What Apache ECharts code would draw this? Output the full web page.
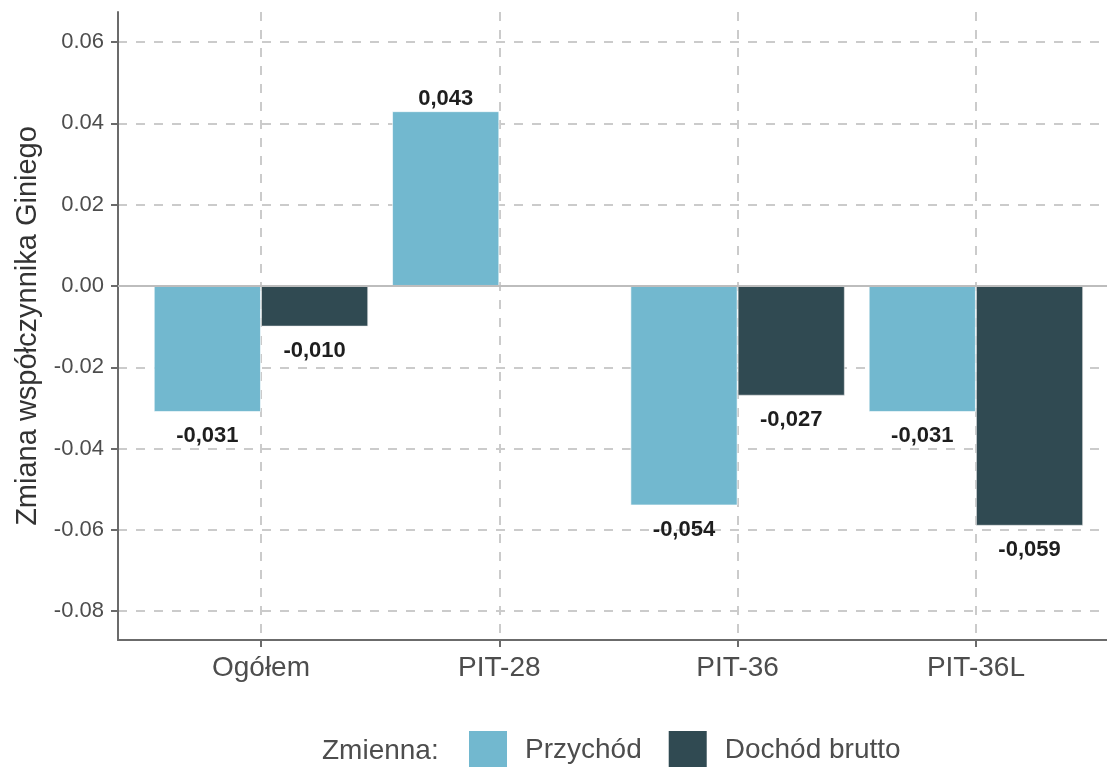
<!DOCTYPE html>
<html>
<head>
<meta charset="utf-8">
<script src="https://cdn.jsdelivr.net/npm/echarts@6/dist/echarts.min.js"></script>
<style>
  html, body { margin: 0; padding: 0; background: #ffffff; }
  #chart { width: 1107px; height: 767px; }
</style>
</head>
<body>
<div id="chart"></div>
<script>
// Change of the Gini coefficient by tax form and income variable
const categories = ['Ogółem', 'PIT-28', 'PIT-36', 'PIT-36L'];
const przychod = [-0.031, 0.043, -0.054, -0.031];
const dochodBrutto = [-0.010, null, -0.027, -0.059];
const yTicks = [-0.08, -0.06, -0.04, -0.02, 0.00, 0.02, 0.04, 0.06];
const seriesNames = ['Przychód', 'Dochód brutto'];
const legendTitle = 'Zmienna:';
const yTitle = 'Zmiana współczynnika Giniego';

const FONT = '"Liberation Sans", Arial, sans-serif';
const COLORS = ['#72b8cf', '#304a52'];
const catPositions = categories.map((c, i) => i + 1);

function fmtComma(v) {
  return v.toFixed(3).replace('.', ',');
}

function toPoints(values) {
  const out = [];
  values.forEach((v, i) => {
    if (v === null) return;
    out.push({
      value: [catPositions[i], v],
      label: { position: v >= 0 ? 'top' : 'bottom', distance: v >= 0 ? 1 : 13 }
    });
  });
  return out;
}

const gridDash = { color: '#cbcbcb', width: 2, type: [9, 9] };

const barLabel = {
  show: true,
  fontFamily: FONT,
  fontSize: 22,
  fontWeight: 'bold',
  color: '#1e1e1e',
  formatter: p => fmtComma(p.value[1])
};

const chart = echarts.init(document.getElementById('chart'), null, { renderer: 'canvas' });

chart.setOption({
  animation: false,
  backgroundColor: '#ffffff',
  grid: { left: 118, top: 12, right: 0, bottom: 127, containLabel: false },
  xAxis: {
    type: 'value',
    min: 0.4,
    max: 4.55,
    axisLine: { show: true, onZero: false, lineStyle: { color: '#6b6b6b', width: 2 } },
    axisTick: { show: true, length: 7, customValues: catPositions, lineStyle: { color: '#6b6b6b', width: 2 } },
    axisLabel: {
      customValues: catPositions,
      margin: 14,
      fontFamily: FONT,
      fontSize: 28,
      color: '#4d4d4d',
      formatter: v => categories[Math.round(v) - 1] || ''
    },
    splitLine: { show: true, lineStyle: gridDash }
  },
  yAxis: {
    type: 'value',
    min: -0.0871,
    max: 0.0674,
    name: yTitle,
    nameLocation: 'middle',
    nameGap: 76,
    nameTextStyle: { fontFamily: FONT, fontSize: 29, color: '#333333' },
    axisLine: { show: true, onZero: false, lineStyle: { color: '#6b6b6b', width: 2 } },
    axisTick: { show: true, length: 7, customValues: yTicks, lineStyle: { color: '#6b6b6b', width: 2 } },
    axisLabel: {
      customValues: yTicks,
      margin: 14,
      fontFamily: FONT,
      fontSize: 22,
      color: '#4d4d4d',
      formatter: v => v.toFixed(2)
    },
    splitLine: { show: true, lineStyle: gridDash }
  },
  legend: {
    data: seriesNames,
    left: 469,
    top: 731,
    padding: 0,
    orient: 'horizontal',
    icon: 'rect',
    itemWidth: 38,
    itemHeight: 38,
    itemGap: 27,
    itemStyle: { borderWidth: 0 },
    textStyle: { fontFamily: FONT, fontSize: 28, color: '#4d4d4d', padding: [0, 0, 0, 13] },
    selectedMode: false
  },
  graphic: [{
    type: 'text',
    left: 322,
    top: 737,
    style: { text: legendTitle, fontFamily: FONT, fontSize: 28, fill: '#4d4d4d' }
  }],
  series: [
    {
      name: seriesNames[0],
      type: 'bar',
      barWidth: '45%',
      barGap: '0%',
      itemStyle: { color: COLORS[0], borderColor: 'rgba(255,255,255,0.6)', borderWidth: 1 },
      label: barLabel,
      data: toPoints(przychod),
      markLine: {
        silent: true,
        symbol: 'none',
        label: { show: false },
        lineStyle: { type: 'solid', color: '#bdbdbd', width: 2 },
        data: [{ yAxis: 0 }]
      }
    },
    {
      name: seriesNames[1],
      type: 'bar',
      barWidth: '45%',
      barGap: '0%',
      itemStyle: { color: COLORS[1], borderColor: 'rgba(235,235,235,0.6)', borderWidth: 1 },
      label: barLabel,
      data: toPoints(dochodBrutto)
    }
  ]
});
</script>
</body>
</html>
